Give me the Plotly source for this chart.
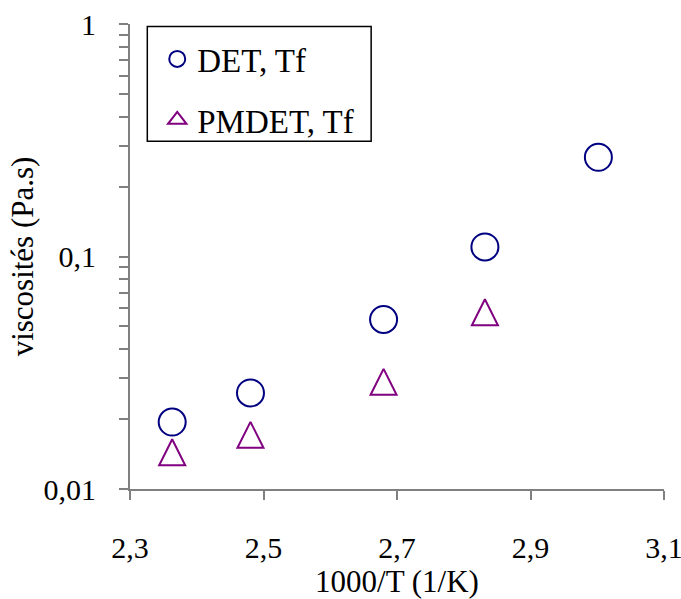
import plotly.graph_objects as go

# Data
inv_T_det = [2.3632, 2.4805, 2.6799, 2.8317, 3.0017]
visc_det = [0.0194, 0.0259, 0.0536, 0.110, 0.267]
inv_T_pmdet = [2.3632, 2.4805, 2.6799, 2.8317]
visc_pmdet = [0.0144, 0.0171, 0.0289, 0.0576]

x_ticks = [2.3, 2.5, 2.7, 2.9, 3.1]
y_major = [0.01, 0.1, 1]
y_major_text = ["0,01", "0,1", "1"]

y_tickvals = []
y_ticktext = []
for dec in [0.01, 0.1]:
    for k in range(1, 10):
        y_tickvals.append(dec * k)
        y_ticktext.append(y_major_text[y_major.index(dec)] if k == 1 else "")
y_tickvals.append(1)
y_ticktext.append("1")

FONT = "Liberation Serif"
AXC = "#808080"
DET_C = "#000080"
PM_C = "#800080"

fig = go.Figure()
fig.add_trace(go.Scatter(
    x=inv_T_det, y=visc_det, mode="markers", name="DET, Tf",
    showlegend=False,
    marker=dict(symbol="circle-open", size=27, color=DET_C,
                line=dict(width=2, color=DET_C)),
))
fig.add_trace(go.Scatter(
    x=inv_T_pmdet, y=visc_pmdet, mode="markers", name="PMDET, Tf",
    showlegend=False,
    marker=dict(symbol="arrow-down-open", size=26, angle=180, standoff=13,
                color=PM_C, line=dict(width=2, color=PM_C)),
))
# legend entries
fig.add_trace(go.Scatter(
    x=[None], y=[None], mode="markers", name="DET, Tf", legendgroup="a",
    marker=dict(symbol="circle-open", size=16, color=DET_C,
                line=dict(width=2, color=DET_C)),
))
fig.add_trace(go.Scatter(
    x=[None], y=[None], mode="markers", name="PMDET, Tf", legendgroup="b",
    marker=dict(symbol="triangle-up-open", size=16,
                color=PM_C, line=dict(width=2, color=PM_C)),
))

fig.update_layout(
    width=681, height=599,
    margin=dict(l=130, r=17, t=24, b=110),
    paper_bgcolor="white", plot_bgcolor="white",
    font=dict(family=FONT, size=30, color="black"),
    separators=", ",
    showlegend=True,
    legend=dict(x=0.051, y=0.985, xanchor="left", yanchor="top",
                bgcolor="rgba(0,0,0,0)", borderwidth=0,
                font=dict(family=FONT, size=33, color="black"),
                traceorder="grouped", tracegroupgap=15),
    shapes=[dict(type="rect", xref="paper", yref="paper",
                 x0=0.0324, x1=0.4516, y0=0.7476, y1=0.9946,
                 line=dict(color="black", width=1.5), fillcolor="white",
                 layer="below")],
)
fig.update_xaxes(
    range=[2.3, 3.1], tickvals=x_ticks, tickformat=".1f", automargin=False,
    ticklabeloverflow="allow",
    showgrid=False, zeroline=False, showline=True, linecolor=AXC, linewidth=2,
    ticks="outside", ticklen=9, tickwidth=2, tickcolor=AXC,
    tickfont=dict(family=FONT, size=30, color="black"),
    ticklabelstandoff=22,
    title=dict(text="1000/T (1/K)", font=dict(family=FONT, size=31, color="black"),
               standoff=12),
)
fig.update_yaxes(
    type="log", range=[-2, 0], tickvals=y_tickvals, ticktext=y_ticktext,
    automargin=False, ticklabeloverflow="allow",
    showgrid=False, zeroline=False, showline=True, linecolor=AXC, linewidth=2,
    ticks="outside", ticklen=9, tickwidth=2, tickcolor=AXC,
    tickfont=dict(family=FONT, size=30, color="black"),
    ticklabelstandoff=17,
    title=dict(text="viscosités (Pa.s)", font=dict(family=FONT, size=31, color="black"),
               standoff=1),
)

fig.write_html("out.html",
               config={"displayModeBar": False},
               post_script="document.body.style.margin='0';document.body.style.overflow='hidden';")
